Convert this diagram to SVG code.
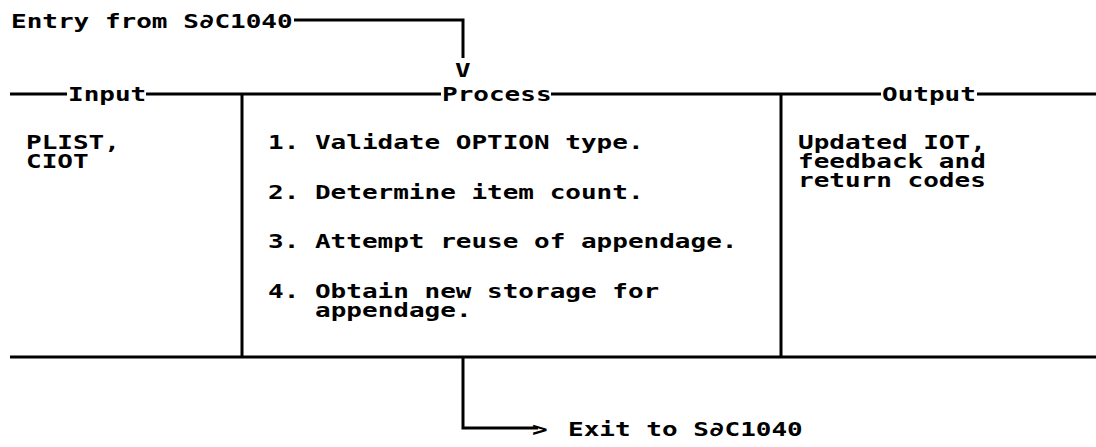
<svg xmlns="http://www.w3.org/2000/svg" width="1096" height="447" viewBox="0 0 1096 447">
<style>
.t{font-family:"DejaVu Sans Mono","Liberation Mono",monospace;font-weight:bold;font-size:20px;fill:#000}
.ln{stroke:#000;stroke-width:3;fill:none;stroke-linecap:butt}
</style>
<rect width="1096" height="447" fill="#fff"/>
<g id="frame">
<path class="ln" d="M10 94H67M146 94H441M551 94H881M977 94H1096"/>
<path class="ln" d="M10 357H1096"/>
<path class="ln" d="M242 94V357M781 94V357"/>
</g>
<g id="entry">
<text class="t" transform="translate(11,28) scale(1.3,1)">Entry from S∂C1040</text>
</g>
<g id="input">
<text class="t" transform="translate(68,101) scale(1.3,1)">Input</text>
<text class="t" transform="translate(26,149) scale(1.3,1)"><tspan x="0" y="0">PLIST,</tspan><tspan x="0" y="19">CIOT</tspan></text>
</g>
<g id="process">
<text class="t" transform="translate(442,101) scale(1.3,1)">Process</text>
<text class="t" transform="translate(268,149) scale(1.3,1)">1. Validate OPTION type.</text>
<text class="t" transform="translate(268,199) scale(1.3,1)">2. Determine item count.</text>
<text class="t" transform="translate(268,248) scale(1.3,1)">3. Attempt reuse of appendage.</text>
<text class="t" transform="translate(268,298) scale(1.3,1)"><tspan x="0" y="0">4. Obtain new storage for</tspan><tspan x="36.2" y="19">appendage.</tspan></text>
</g>
<g id="output">
<text class="t" transform="translate(882,101) scale(1.3,1)">Output</text>
<text class="t" transform="translate(798,149) scale(1.3,1)"><tspan x="0" y="0">Updated IOT,</tspan><tspan x="0" y="19">feedback and</tspan><tspan x="0" y="38">return codes</tspan></text>
</g>
<g id="exit">
<text class="t" transform="translate(568,436) scale(1.3,1)">Exit to S∂C1040</text>
</g>
<g id="connectors">
<path class="ln" d="M294 20H463V58"/>
<text class="t" transform="translate(455,77) scale(1.3,1)">V</text>
<path class="ln" d="M463 357V428H538"/>
<text class="t" transform="translate(532,436) scale(1.3,1)">&gt;</text>
</g>
</svg>
